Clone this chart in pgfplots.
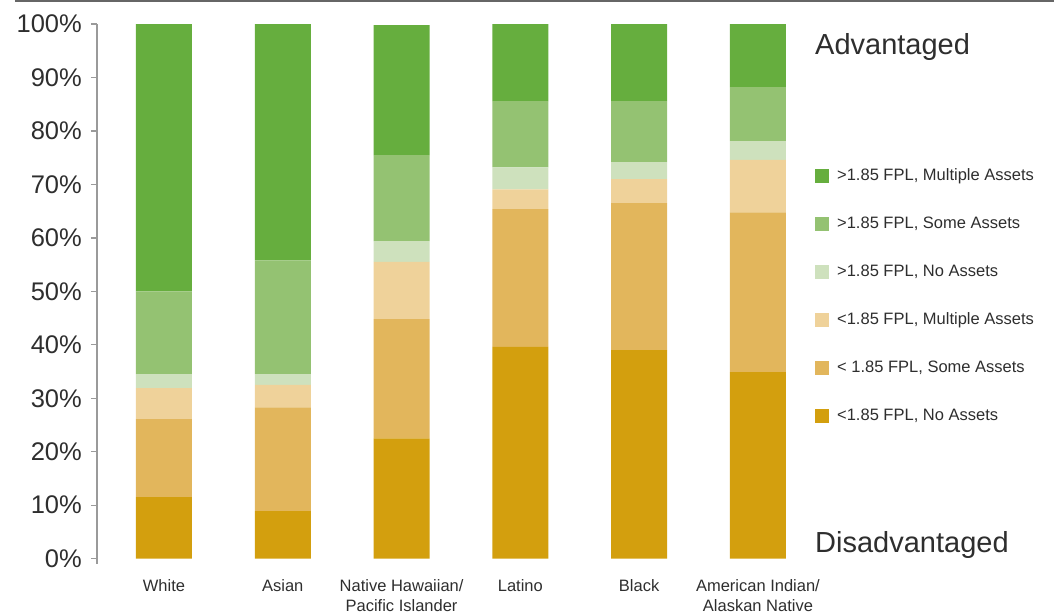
\documentclass[border=0pt]{standalone}
\usepackage{pgfplots}
\pgfplotsset{compat=1.18}
\usepackage{fontspec}
\setmainfont{Liberation Sans}

\definecolor{gmult}{HTML}{66AE3E}
\definecolor{gsome}{HTML}{94C272}
\definecolor{gnone}{HTML}{CEE1BD}
\definecolor{omult}{HTML}{EFD29A}
\definecolor{osome}{HTML}{E2B65C}
\definecolor{onone}{HTML}{D39F0E}
\definecolor{txt}{HTML}{2E2E2E}
\definecolor{axisgray}{HTML}{9A9A9A}

% share of households in each income/asset group, by race (percent)
\pgfplotstableread{
x  nonelow somelow multlow nonehigh somehigh multhigh
0  11.5    14.6    5.8     2.6      15.5     50.0
1  8.9     19.4    4.2     2.0      21.3     44.2
2  22.5    22.3    10.7    3.9      16.1     24.3
3  39.6    25.8    3.7     4.1      12.4     14.4
4  39.0    27.5    4.5     3.2      11.4     14.4
5  34.9    29.9    9.8     3.5      10.1     11.8
}\shares

\begin{document}
\begin{tikzpicture}
\path[use as bounding box] (-97pt,-51pt) rectangle (957pt,564pt);
\draw[color=black!60, line width=1.5pt] (-82pt,563pt) -- (957pt,563pt);
\begin{axis}[
  at={(0pt,0pt)}, anchor=south west,
  scale only axis,
  width=703pt, height=539.9pt,
  xmin=-0.564, xmax=5.354,
  ymin=-1, ymax=100,
  ybar stacked, bar width=56pt,
  axis x line*=bottom, axis y line*=left,
  x axis line style={draw=none},
  y axis line style={color=axisgray, line width=1.2pt},
  xtick=data,
  xticklabels={White, Asian, {Native Hawaiian/\\Pacific Islander}, Latino, Black, {American Indian/\\Alaskan Native}},
  x tick style={draw=none},
  ytick={0,10,...,100},
  yticklabel={\pgfmathprintnumber{\tick}\%},
  /pgf/number format/assume math mode=true,
  y tick style={color=axisgray, line width=1.2pt},
  tick align=outside, major tick length=6pt,
  yticklabel style={font=\fontsize{25.5}{28}\selectfont, text=txt, inner sep=0pt, xshift=-9pt},
  xticklabel style={font=\fontsize{16.5}{20}\selectfont, text=txt, align=center, inner sep=0pt, anchor=north, yshift=-9pt},
  every axis plot/.append style={draw=none},
  legend image code/.code={\fill (0pt,-7pt) rectangle (14pt,7pt);},
  reverse legend,
  legend cell align=left,
  legend style={draw=none, fill=none, inner sep=0pt,
    at={(1.0213,0.7335)}, anchor=north west,
    font=\fontsize{16.5}{20}\selectfont, text=txt,
    row sep=32pt,
    nodes={inner sep=0pt, text height=12pt, text depth=4pt},
    /tikz/every odd column/.style={column sep=8pt}},
]
\addplot[fill=onone] table[x=x, y=nonelow] {\shares};
\addlegendentry{<1.85 FPL, No Assets}
\addplot[fill=osome] table[x=x, y=somelow] {\shares};
\addlegendentry{< 1.85 FPL, Some Assets}
\addplot[fill=omult] table[x=x, y=multlow] {\shares};
\addlegendentry{<1.85 FPL, Multiple Assets}
\addplot[fill=gnone] table[x=x, y=nonehigh] {\shares};
\addlegendentry{>1.85 FPL, No Assets}
\addplot[fill=gsome] table[x=x, y=somehigh] {\shares};
\addlegendentry{>1.85 FPL, Some Assets}
\addplot[fill=gmult] table[x=x, y=multhigh] {\shares};
\addlegendentry{>1.85 FPL, Multiple Assets}
\end{axis}
\node[anchor=base west, inner sep=0pt, text=txt, font=\fontsize{29}{32}\selectfont] at (718pt,509pt) {Advantaged};
\node[anchor=base west, inner sep=0pt, text=txt, font=\fontsize{29}{32}\selectfont] at (718pt,11pt) {Disadvantaged};
\end{tikzpicture}
\end{document}
